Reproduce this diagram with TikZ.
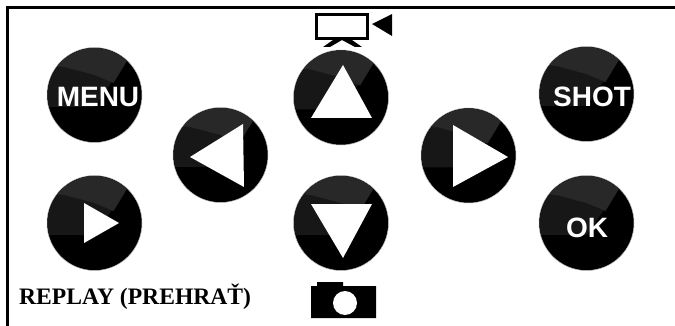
\documentclass[tikz,border=0pt]{standalone}
\usepackage{fontspec}
\setmainfont{Liberation Serif}
\newfontfamily\btnfont{Liberation Sans}
\definecolor{sheenlow}{HTML}{171717}
\definecolor{sheenhigh}{HTML}{282828}
\newcommand{\dotbtn}[3]{%
  \node[btn] (#1) at (#2,#3) {};
  \begin{scope}
    \clip (#2,#3) circle (47);
    \fill[sheenlow] (#2-50,#3+12) -- (#2,#3+12) -- (#2+36,#3-40) -- (#2+20,#3-60) -- (#2-50,#3-60) -- cycle;
    \fill[sheenhigh] (#2-50,#3-30) -- (#2-30,#3-28) -- (#2,#3-20) -- (#2+19,#3-12) -- (#2+36,#3-40) -- (#2+20,#3-60) -- (#2-50,#3-60) -- cycle;
  \end{scope}}
\tikzset{
  x=1pt,y=-1pt,
  btn/.style={circle,fill=black,draw=black!25,line width=.5pt,minimum size=95pt,inner sep=0pt},
  btnlabel/.style={text=white,font=\btnfont\bfseries\fontsize{28}{30}\selectfont,inner sep=0pt},
  glyph/.style={fill=white},
  frameline/.style={line width=3.2pt,black},
  ink/.style={fill=black}
}
\begin{document}
\begin{tikzpicture}
\useasboundingbox (0,0) rectangle (675,326);
\fill[white] (0,0) rectangle (675,326);
\draw[frameline] (7.5,326) -- (7.5,7.5) -- (675,7.5);
% buttons
\dotbtn{menu}{94.5}{95}
\dotbtn{replay}{94.5}{223}
\dotbtn{left}{220.5}{155}
\dotbtn{up}{341}{97.5}
\dotbtn{down}{341}{223}
\dotbtn{right}{468.5}{155.5}
\dotbtn{shot}{586.5}{94}
\dotbtn{ok}{586.5}{223}
% labels
\node[btnlabel] (menutext) at (98,97) {MENU};
\node[btnlabel] (shottext) at (592,97) {SHOT};
\node[btnlabel] (oktext) at (587,228) {OK};
% arrows
\fill[glyph] (190,157) -- (243,124) -- (244,187) -- cycle;
\fill[glyph] (343,65) -- (372,118) -- (311,118) -- cycle;
\fill[glyph] (311,204) -- (372,204) -- (343,258) -- cycle;
\fill[glyph] (453,125) -- (508,157) -- (453,187) -- cycle;
\fill[glyph] (84,203) -- (119,223) -- (84,243) -- cycle;
% video camera
\draw[black,line width=3pt,fill=white] (316.5,14.5) rectangle (367.5,38.5);
\fill[ink] (372,24) -- (392,14) -- (392,36) -- cycle;
\fill[ink] (323,47) -- (330,47) -- (342,40) -- (333,40) -- cycle;
\fill[ink] (342,40) -- (352,40) -- (362,47) -- (355,47) -- cycle;
% photo camera
\fill[ink] (311,286) -- (317,286) -- (317,282) -- (343,282) -- (343,286) -- (376,286) -- (376,318) -- (311,318) -- cycle;
\fill[white] (345,303) circle (12);
% caption
\node[anchor=base west,inner sep=0pt,font=\bfseries\fontsize{23.6}{26}\selectfont] (caption) at (19,304) {REPLAY (PREHRAŤ)};
\end{tikzpicture}
\end{document}
